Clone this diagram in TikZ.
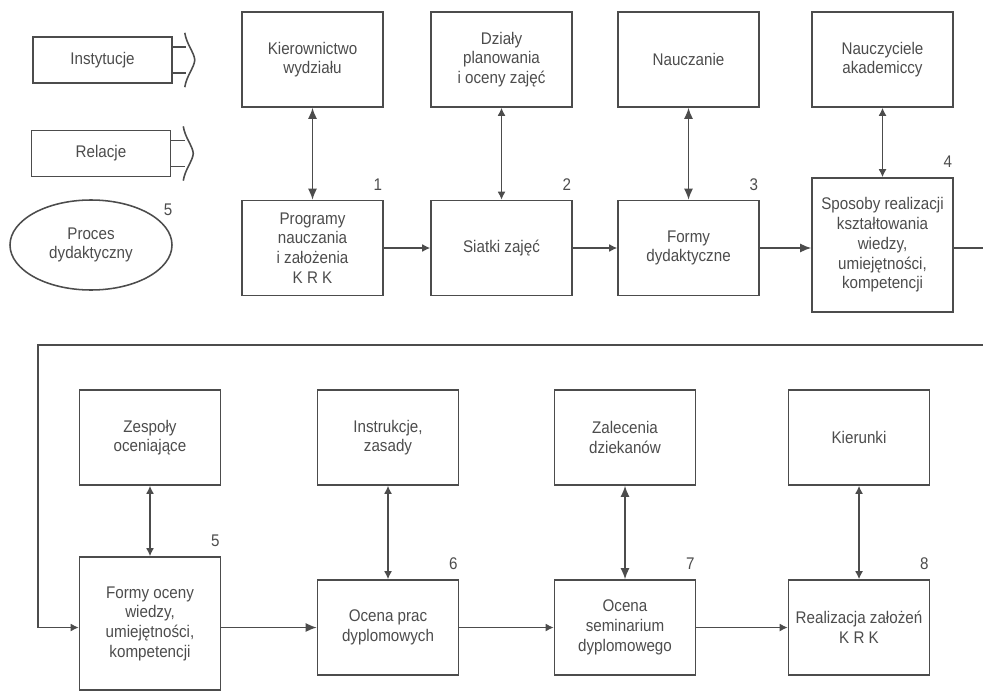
\documentclass[tikz,border=0pt]{standalone}
\usepackage{fontspec}
\setmainfont{Liberation Sans}[FakeStretch=0.9]
\usepackage{tikz}
\usetikzlibrary{calc, arrows.meta, shapes.geometric}
\definecolor{ink}{gray}{0.3}
\newcommand\boxFont{\fontsize{12}{14}\selectfont}

\begin{document}
\begin{tikzpicture}[>={Latex[length=2.8mm,width=2.3mm]}, color=ink, line width=1.1pt]
    \tikzset{
      blk/.style={
        draw, rectangle, align=center,
        minimum width=3.525cm, minimum height=2.375cm,
        font=\boxFont,
      },
      faint/.style={
        >={Latex[length=2mm,width=2mm]},
      },
      num/.style={font=\boxFont, inner sep=1pt},
    }
    \tikzstyle{legendbox} = [draw, rectangle, minimum width=3.475cm, minimum height=1.15cm, font=\boxFont]
    \tikzstyle{oval} = [draw, ellipse, align=center, minimum width=4.05cm, minimum height=2.25cm, font=\boxFont]

    \pgfmathsetmacro{\R}{24.575}

    \useasboundingbox (0,0) rectangle (\R,-17.325);

    % first row
    \node[blk] (kier) at (7.8125,-1.4875)  {Kierownictwo\\wydziału};
    \node[blk] (dzia) at (12.5375,-1.4875) {Działy\\planowania\\i oceny zajęć};
    \node[blk] (nauc) at (17.2125,-1.4875) {Nauczanie};
    \node[blk] (nakd) at (22.0625,-1.4875) {Nauczyciele\\akademiccy};

    \node[blk] (prog) at (7.8125,-6.2)  {Programy\\nauczania\\i założenia\\K R K};
    \node[blk] (siat) at (12.5375,-6.2) {Siatki zajęć};
    \node[blk] (form) at (17.2125,-6.2) {Formy\\dydaktyczne};
    \node[blk, minimum height=3.35cm] (spos) at (22.0625,-6.125)
        {Sposoby realizacji\\kształtowania\\wiedzy,\\umiejętności,\\kompetencji};

    % second row
    \node[blk] (zesp) at (3.75,-10.9375)   {Zespoły\\oceniające};
    \node[blk] (inst) at (9.7,-10.9375)    {Instrukcje,\\zasady};
    \node[blk] (zale) at (15.625,-10.9375) {Zalecenia\\dziekanów};
    \node[blk] (kiru) at (21.475,-10.9375) {Kierunki};

    \node[blk, minimum height=3.325cm] (fooc) at (3.75,-15.5875)
        {Formy oceny\\wiedzy,\\umiejętności,\\kompetencji};
    \node[blk] (opra) at (9.7,-15.6875)    {Ocena prac\\dyplomowych};
    \node[blk] (osem) at (15.625,-15.6875) {Ocena\\seminarium\\dyplomowego};
    \node[blk] (real) at (21.475,-15.6875) {Realizacja założeń\\K R K};

    % legend
    \node[legendbox] (lgi) at (2.5625,-1.5) {Instytucje};
    \node[legendbox] (lgr) at (2.525,-3.8375) {Relacje};
    \node[oval] (proc) at (2.275,-6.125) {Proces\\dydaktyczny};
    \node[num] (num-0) at (4.2,-5.25) {5};
    \foreach \nd in {lgi, lgr} {
        \draw ($(\nd.east)+(0,0.325)$) -- ++(0.34,0);
        \draw ($(\nd.east)+(0,-0.325)$) -- ++(0.34,0);
        \draw ($(\nd.east)+(0.3,0.68)$)
            .. controls ($(\nd.east)+(0.34,0.4)$) and ($(\nd.east)+(0.54,0.18)$) .. ($(\nd.east)+(0.55,0)$)
            .. controls ($(\nd.east)+(0.54,-0.18)$) and ($(\nd.east)+(0.34,-0.4)$) .. ($(\nd.east)+(0.3,-0.68)$);
    }

    % step numbers
    \foreach \nd/\k in {prog/1, siat/2, form/3, spos/4, fooc/5, opra/6, osem/7, real/8}
        \node[num] (num-\k) at ($(\nd.north east)+(-0.15,0.38)$) {\k};

    % two-way links
    \path[<->]
        (kier) edge (prog)
        (nauc) edge (form)
        (zale) edge (osem);
    \path[faint, <->]
        (dzia) edge (siat)
        (nakd) edge (spos)
        (zesp) edge (fooc)
        (inst) edge (opra)
        (kiru) edge (real);

    % main flow
    \path[->]
        (form) edge (form -| spos.west)
        (fooc.east |- opra) edge (opra);
    \path[faint, ->]
        (prog) edge (siat)
        (siat) edge (form)
        (opra) edge (osem)
        (osem) edge (real);

    % line to the next row
    \coordinate (rim) at (\R,-8.625);
    \coordinate (bend) at (0.95,-8.625);
    \draw (form -| spos.east) -- (form -| rim);
    \draw[faint, ->] (rim) -- (bend) -- (bend |- opra) -- (fooc.west |- opra);
\end{tikzpicture}
\end{document}
